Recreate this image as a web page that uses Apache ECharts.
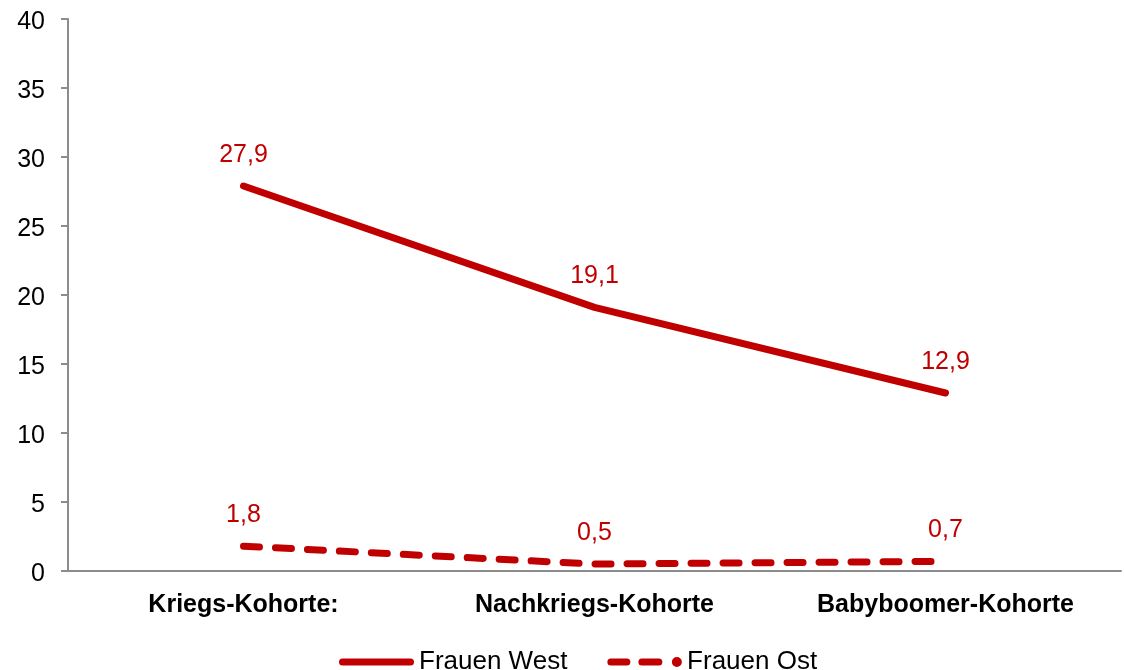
<!DOCTYPE html>
<html><head><meta charset="utf-8">
<script src="https://cdn.jsdelivr.net/npm/echarts@6/dist/echarts.min.js"></script>
<style>html,body{margin:0;padding:0;background:#fff}#c{width:1124px;height:670px}</style>
</head><body><div id="c"></div>
<script>
const categories = ['Kriegs-Kohorte:', 'Nachkriegs-Kohorte', 'Babyboomer-Kohorte'];
const frauenWest = [27.9, 19.1, 12.9];
const frauenOst = [1.8, 0.5, 0.7];
const yTicks = { min: 0, max: 40, interval: 5 };

const red = '#C00000';
const axisGray = '#8C8C8C';
const fontFamily = 'Liberation Sans, Arial, sans-serif';
const fmt = p => String(p.value).replace('.', ',');

function seg(x0, x1, y0, h) {
  const r = h / 2;
  return `M${x0 + r} ${y0}L${x1 - r} ${y0}A${r} ${r} 0 0 1 ${x1 - r} ${y0 + h}L${x0 + r} ${y0 + h}A${r} ${r} 0 0 1 ${x0 + r} ${y0}Z`;
}
const iconSolid = 'path://' + seg(0, 75, 1.5, 7) + 'M0 0L0.01 0L0 0.01Z M0 10L0.01 10L0 9.99Z';
const iconDash = 'path://' + seg(0, 23, 1.5, 7) + seg(31, 55, 1.5, 7) +
  'M69.5 0A5 5 0 1 1 69.49 0Z';

const chart = echarts.init(document.getElementById('c'), null, { renderer: 'canvas' });
chart.setOption({
  animation: false,
  backgroundColor: '#fff',
  grid: { left: 68, right: 3, top: 19, bottom: 99, containLabel: false },
  legend: {
    top: 644, left: 334,
    itemWidth: 75, itemHeight: 10, itemGap: 40,
    textStyle: { fontFamily, fontSize: 26, color: '#000' },
    data: [
      { name: 'Frauen West', icon: iconSolid, itemStyle: { color: red, opacity: 1, borderWidth: 0 } },
      { name: 'Frauen Ost', icon: iconDash, itemStyle: { color: red, opacity: 1, borderWidth: 0 } }
    ]
  },
  xAxis: {
    type: 'category', data: categories, boundaryGap: true,
    axisLine: { lineStyle: { color: axisGray, width: 2 } },
    axisTick: { alignWithLabel: true, length: 7, lineStyle: { color: axisGray, width: 2 } },
    axisLabel: { fontFamily, fontSize: 25, fontWeight: 'bold', color: '#000', margin: 22 }
  },
  yAxis: {
    type: 'value', min: yTicks.min, max: yTicks.max, interval: yTicks.interval,
    axisLine: { show: true, lineStyle: { color: axisGray, width: 2 } },
    axisTick: { show: true, length: 7, lineStyle: { color: axisGray, width: 2 } },
    splitLine: { show: false },
    axisLabel: { fontFamily, fontSize: 25, color: '#000', margin: 23, lineHeight: 30, verticalAlign: 'top', padding: [-12, 0, 0, 0] }
  },
  series: [
    {
      name: 'Frauen West', type: 'line', data: frauenWest,
      symbol: 'circle', symbolSize: 1, showSymbol: true, color: red,
      itemStyle: { color: 'rgba(0,0,0,0)' },
      lineStyle: { color: red, width: 7, cap: 'round' },
      label: { show: true, position: 'top', distance: 18, formatter: fmt, fontFamily, fontSize: 25, color: red }
    },
    {
      name: 'Frauen Ost', type: 'line', data: frauenOst,
      symbol: 'circle', symbolSize: 1, showSymbol: true, color: red,
      itemStyle: { color: 'rgba(0,0,0,0)' },
      lineStyle: { color: red, width: 7, type: [16, 16], cap: 'round' },
      label: { show: true, position: 'top', distance: 18, formatter: fmt, fontFamily, fontSize: 25, color: red }
    }
  ]
});
</script></body></html>
